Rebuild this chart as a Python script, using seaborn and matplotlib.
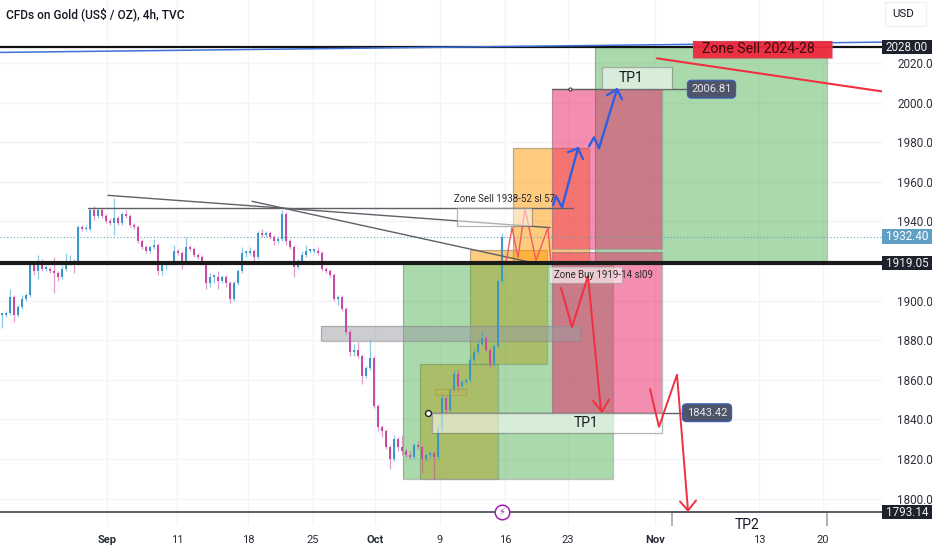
import matplotlib
matplotlib.use("Agg")
import matplotlib.pyplot as plt
import numpy as np
import seaborn as sns
from matplotlib.patches import Rectangle, FancyBboxPatch

# closes, one bar every 4 units of the time scale
closes = [1893, 1894, 1902, 1893, 1897, 1901, 1903, 1918, 1915, 1920,
          1916, 1916, 1915, 1914, 1912, 1916, 1919, 1920, 1919, 1937,
          1936, 1936, 1946, 1943, 1946, 1943, 1940, 1939, 1942, 1939,
          1944, 1943, 1938, 1937, 1930, 1927, 1925, 1927, 1928, 1915,
          1918, 1919, 1919, 1925, 1924, 1919, 1927, 1926, 1923, 1922,
          1919, 1909, 1912, 1912, 1910, 1912, 1909, 1901, 1909, 1915,
          1924, 1924, 1925, 1922, 1934, 1933, 1934, 1932, 1930, 1931,
          1944, 1930, 1927, 1917, 1920, 1923, 1925, 1925, 1925, 1924,
          1916, 1915, 1913, 1901, 1902, 1896, 1884, 1874, 1875, 1872,
          1862, 1866, 1871, 1847, 1836, 1834, 1826, 1820, 1830, 1826,
          1824, 1822, 1821, 1827, 1826, 1820, 1822, 1823, 1821, 1835,
          1851, 1845, 1855, 1863, 1857, 1859, 1860, 1870, 1874, 1878,
          1881, 1875, 1868, 1877, 1910, 1932]
wick_up = [1, 1, 4, 1, 1, 2, 1, 1, 2, 3,
           1, 2, 1, 7, 1, 2, 5, 3, 1, 1,
           1, 2, 1, 2, 1, 1, 1, 2, 10, 1,
           1, 2, 1, 1, 1, 1, 1, 1, 3, 1,
           1, 1, 1, 3, 1, 1, 5, 1, 1, 1,
           1, 1, 2, 1, 3, 1, 1, 1, 1, 1,
           3, 1, 2, 1, 1, 2, 1, 1, 1, 1,
           2, 1, 1, 1, 1, 2, 3, 1, 1, 2,
           1, 1, 1, 1, 1, 1, 1, 1, 3, 4,
           1, 1, 9, 1, 1, 1, 1, 1, 2, 1,
           6, 1, 2, 1, 2, 1, 1, 1, 1, 2,
           2, 1, 1, 2, 2, 1, 1, 2, 2, 2,
           4, 1, 1, 1, 1, 2]
wick_down = [7, 1, 1, 4, 1, 1, 1, 1, 2, 4,
             1, 1, 1, 10, 2, 1, 1, 1, 5, 1,
             1, 1, 1, 2, 1, 1, 1, 1, 6, 1,
             1, 1, 1, 1, 1, 1, 1, 1, 1, 2,
             2, 2, 1, 1, 1, 3, 1, 1, 1, 1,
             1, 3, 2, 3, 4, 1, 2, 2, 1, 1,
             1, 2, 1, 3, 1, 1, 1, 1, 2, 1,
             1, 2, 1, 5, 1, 1, 1, 1, 1, 1,
             1, 1, 1, 1, 3, 1, 1, 2, 2, 1,
             4, 1, 1, 1, 2, 3, 1, 5, 1, 2,
             2, 1, 1, 1, 1, 7, 1, 1, 11, 1,
             1, 2, 1, 1, 3, 1, 1, 1, 1, 1,
             1, 1, 2, 1, 1, 1]

tick_pos = [107, 177, 248, 313, 375, 440, 505, 568, 655, 759, 823]
tick_names = ["Sep", "11", "18", "25", "Oct", "9", "16", "23", "Nov", "13", "20"]
bold_ticks = ["Sep", "Oct", "Nov"]
price_ticks = [1800, 1820, 1840, 1860, 1880, 1900, 1940, 1960, 1980, 2000, 2020]

level_zone_top = 2028.00
level_zone_mid = 1919.05
level_last = 1932.40
level_low = 1793.14
level_tp_up = 2006.81
level_tp_down = 1843.42

fig_w, fig_h = 932, 550
plot_w, plot_h = 882, 526

sns.set_theme(style="white", rc={"axes.facecolor": "white", "figure.facecolor": "white"})
plt.rcParams["font.family"] = ["Roboto", "DejaVu Sans"]

fig = plt.figure(figsize=(fig_w / 100, fig_h / 100), dpi=100)
ax = fig.add_axes([0, 1 - plot_h / fig_h, plot_w / fig_w, plot_h / fig_h])

for t in tick_pos:
    ax.axvline(t, color="#f4f4f6", lw=1, zorder=0)
for p in price_ticks:
    ax.axhline(p, color="#f4f4f6", lw=1, zorder=0)


def box(x0, x1, low, high, color, alpha, z, edge="#888888", lw=0.9):
    ax.add_patch(Rectangle((x0, low), x1 - x0, high - low, facecolor=color, alpha=alpha,
                           edgecolor="none", zorder=z))
    ax.add_patch(Rectangle((x0, low), x1 - x0, high - low, facecolor="none",
                           edgecolor=edge, alpha=0.55, lw=lw, zorder=z))


# orange under green, pink over green: that is how the tints mix in the chart
orange = "#ff9800"
green = "#4caf50"
pink = "#e91e63"
box(420, 498, 1810, 1868, orange, 0.5, 1.0)
box(470, 547, 1868, 1925.6, orange, 0.5, 1.0)
box(513, 589, 1919, 1977.1, orange, 0.5, 1.0)
box(403, 613, 1810, level_zone_mid, green, 0.47, 1.1)
box(595, 827, level_zone_mid, level_zone_top, green, 0.47, 1.1)
box(552, 662, 1926.1, level_tp_up, pink, 0.5, 1.2)
box(552, 662, level_tp_down, 1924.6, pink, 0.5, 1.2)
box(321, 580, 1879.5, 1887.2, "#9a9da3", 0.5, 1.3)

# candles
opens = [closes[0]] + closes[:-1]
xs = np.arange(len(closes)) * 4 + 2
for x, o, c, up, dn in zip(xs, opens, closes, wick_up, wick_down):
    col = "#3a97c9" if c >= o else "#c94aa2"
    ax.vlines(x, min(o, c) - dn, max(o, c) + up, color=col, alpha=0.55, lw=0.9, zorder=3)
    ax.bar(x, max(abs(c - o), 0.9), bottom=min(o, c), width=2.8, color=col, linewidth=0, zorder=3.1)


def path(px, py, color, lw=1.3, z=4):
    sns.lineplot(x=px, y=py, sort=False, estimator=None, color=color, linewidth=lw,
                 ax=ax, zorder=z, legend=False)


# level lines
ax.axhline(level_zone_top, color="#111111", lw=1.6, zorder=5)
path([0, 882], [2025.4, 2030.6], "#3f6fd8", 1.1, 5.1)
ax.axhline(level_zone_mid, color="#1a1a1a", lw=3.0, zorder=5)
ax.axhline(level_low, color="#50535e", lw=1.3, zorder=5)
ax.axhline(level_last, color="#5aa5b8", lw=0.8, ls=(0, (1, 2)), zorder=2)

# trend lines
trend_grey = "#5f6066"
path([108, 550], [1953.2, 1936.9], trend_grey, 1.0)
path([252, 537], [1950.2, 1918.7], trend_grey, 1.0)
path([88, 573], [1947, 1947], trend_grey, 1.0)
path([552, 687], [level_tp_up, level_tp_up], trend_grey, 1.0)
path([428, 687], [level_tp_down, level_tp_down], trend_grey, 1.0)

# hand-drawn route, blue up and red down
blue = "#2f5fe0"
red = "#f0303f"
path([553, 556, 562, 578], [1948.2, 1952.8, 1947.2, 1977.0], blue, 1.7, 6)
path([568, 578, 583], [1975.0, 1977.0, 1971.5], blue, 1.7, 6)
path([589, 594, 599, 617], [1978.0, 1982.5, 1977.0, 2006.8], blue, 1.7, 6)
path([607, 617, 622], [2003.8, 2006.8, 2001.7], blue, 1.7, 6)

path([561, 572, 588, 601], [1906.4, 1886.7, 1912.5, 1844.5], red, 1.4, 6)
path([593, 602, 609], [1849.4, 1844.0, 1850.0], red, 1.4, 6)
path([650, 659, 677, 688], [1855.4, 1836.3, 1862.6, 1794.0], red, 1.4, 6)
path([680, 688, 696], [1798.6, 1794.0, 1799.1], red, 1.4, 6)
path([657, 882], [2022.4, 2005.7], red, 1.5, 6)
path([506, 512, 518, 525, 536, 548, 551],
     [1919.2, 1936.9, 1921.8, 1946.4, 1920.3, 1936.9, 1918.7], "#ef5a62", 1.0, 4.5)

# text boxes
box(457, 532, 1937.5, 1947, "white", 0.5, 4.6, edge="#777777")
box(432, 662, 1833.4, level_tp_down, "white", 0.55, 4.6, edge="#777777")
box(602, 672, 2007, 2018, "white", 0.55, 4.6, edge="#777777")
box(549, 622, 1908.8, 1917.0, "white", 0.62, 4.6, edge="#aaaaaa")
box(693, 832, 2022.7, 2031.3, "#f0283c", 0.95, 6.5, edge="#c05060")
box(435, 466, 1852.5, 1855.5, "#c8b050", 0.35, 4.6, edge="#9a9040", lw=0.6)
ax.add_patch(Rectangle((672, 1780), 155, 13.14, facecolor="white", edgecolor="#9a9da3", lw=1.1, zorder=4.6))

ax.text(631, 2012.5, "TP1", ha="center", va="center", fontsize=10, color="#131722", zorder=7)
ax.text(586, 1838.4, "TP1", ha="center", va="center", fontsize=10, color="#131722", zorder=7)
ax.text(747, 1786.9, "TP2", ha="center", va="center", fontsize=10, color="#131722", zorder=7)
ax.text(702, 2026.9, "Zone Sell 2024-28", ha="left", va="center", fontsize=10.2, color="#3a0a10", zorder=7)
ax.text(454, 1951.5, "Zone Sell 1938-52 sl 57", ha="left", va="center", fontsize=7, color="#2a2a2a", zorder=7)
ax.text(554, 1912.8, "Zone Buy 1919-14 sl09", ha="left", va="center", fontsize=7, color="#2a2a2a", zorder=7)


def pill(x0, x1, price, text):
    ax.add_patch(FancyBboxPatch((x0 + 3, price - 3.2), x1 - x0 - 6, 6.4,
                                boxstyle="round,pad=0,rounding_size=2", mutation_aspect=0.5,
                                facecolor="#4f5568", edgecolor="#3f5fb0", lw=1, zorder=8))
    ax.patches[-1].set_boxstyle("round", pad=2.5, rounding_size=4)
    ax.text((x0 + x1) / 2, price, text, ha="center", va="center", fontsize=8,
            color="#e8e8ee", zorder=9)


pill(687, 736, level_tp_up, "2006.81")
pill(682, 732, level_tp_down, "1843.42")

# markers
ax.scatter([428], [level_tp_down], s=18, color="white", edgecolor="#222222", linewidth=1, zorder=9)
ax.scatter([570], [level_tp_up], s=5, color="white", edgecolor="#222222", linewidth=0.7, zorder=9)
ax.scatter([502], [1793.3], s=110, color="white", edgecolor="#a01fb0", linewidth=1.1, zorder=9, clip_on=False)
ax.text(502, 1793.2, "\u26a1", ha="center", va="center", fontsize=7, color="#a01fb0", zorder=10,
        family="DejaVu Sans")

# axes
ax.set_xlim(0, plot_w)
ax.set_ylim(1786.2, 2051.87)
ax.set_xticks(tick_pos)
ax.set_xticklabels(tick_names)
ax.yaxis.tick_right()
ax.set_yticks(price_ticks)
ax.set_yticklabels([f"{p:.2f}" for p in price_ticks])
ax.tick_params(axis="y", length=0, pad=11, labelsize=8.4, labelcolor="#2a2e39")
ax.tick_params(axis="x", length=0, pad=6.5, labelsize=8, labelcolor="#2a2e39")
for lab in ax.get_xticklabels():
    if lab.get_text() in bold_ticks:
        lab.set_fontweight("bold")
sns.despine(ax=ax, left=True, bottom=True, right=True, top=True)

# price tags outside the plot
tags = [(level_zone_top, "#1e222d", "#f0f0f0"), (level_zone_mid, "#1e222d", "#f0f0f0"),
        (level_last, "#5f9fc4", "white"), (level_low, "#1e222d", "#f0f0f0")]
for price, bg, fg in tags:
    ax.add_patch(Rectangle((882, price - 3.6), 50, 7.2, facecolor=bg, edgecolor="none", clip_on=False, zorder=9))
    ax.text(907, price - 0.1, f"{price:.2f}", ha="center", va="center", fontsize=8.4, color=fg,
            clip_on=False, zorder=10)

fig.text(6 / fig_w, 1 - 14 / fig_h, "CFDs on Gold (US$ / OZ), 4h, TVC", ha="left", va="center",
         fontsize=8.6, fontweight="medium", color="#131722")
fig.text(892 / fig_w, 1 - 14 / fig_h, "USD", ha="left", va="center", fontsize=8.2, color="#131722")
fig.patches.append(Rectangle((885 / fig_w, 1 - 26 / fig_h), 41 / fig_w, 24 / fig_h, transform=fig.transFigure,
                             facecolor="none", edgecolor="#f0f0f3", lw=1))

fig.savefig("out.png", dpi=100)
